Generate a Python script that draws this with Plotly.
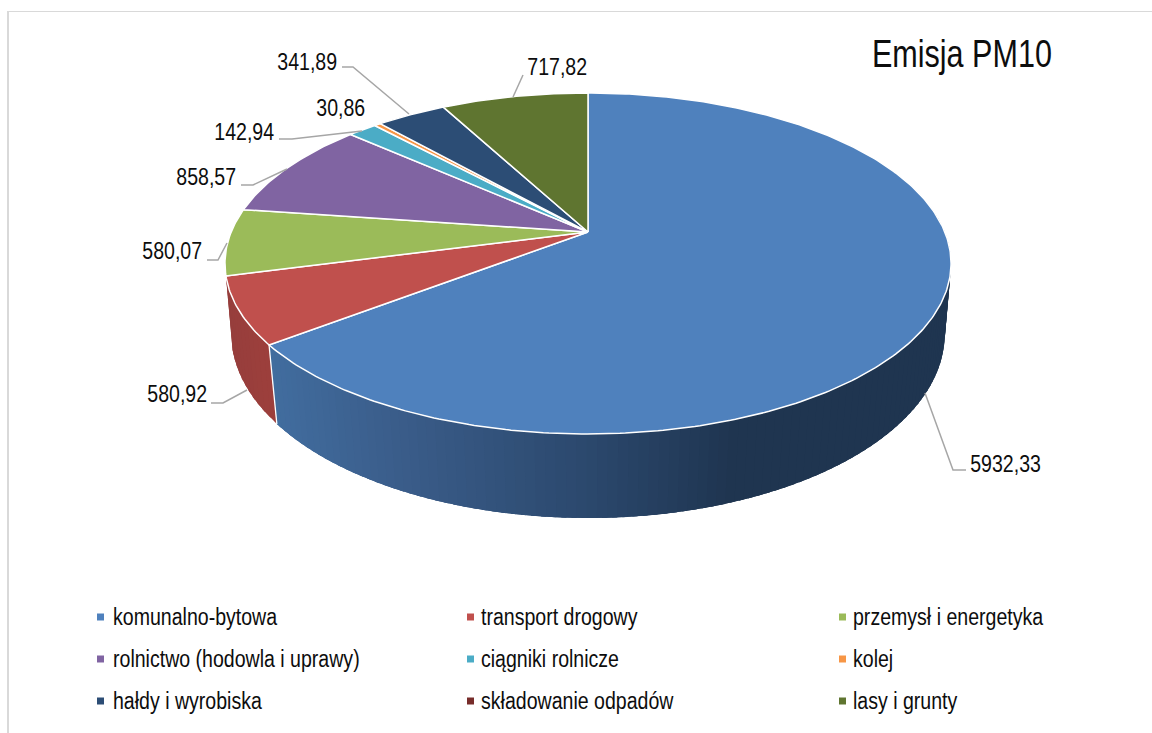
import math
import plotly.graph_objects as go

# ---- data ----
categories = ["komunalno-bytowa", "transport drogowy", "przemysł i energetyka",
              "rolnictwo (hodowla i uprawy)", "ciągniki rolnicze", "kolej",
              "hałdy i wyrobiska", "składowanie odpadów", "lasy i grunty"]
values = [5932.33, 580.92, 580.07, 858.57, 142.94, 30.86, 341.89, 0, 717.82]
colors = ["#4F81BD", "#C0504D", "#9BBB59", "#8064A2", "#4BACC6",
          "#F79646", "#2C4D75", "#772C2A", "#5F7530"]
title = "Emisja PM10"

FONT = "Liberation Sans, Arial, sans-serif"

# ---- projection of the tilted pie ----
def top(t):
    v, s = math.cos(t), math.sin(t)
    d = 1 + 0.1847 * v
    return 588 + 356.8 * s / d, 232 - 164.7 * v / d

def bottom(t):
    v, s = math.cos(t), math.sin(t)
    d = 1 + 0.17 * v
    return 588 + 351.6 * s / d, 302.5 - 178.9 * v / d

def lerp(stops, x):
    if x <= stops[0][0]:
        return stops[0][1]
    for (x0, c0), (x1, c1) in zip(stops, stops[1:]):
        if x <= x1:
            f = (x - x0) / (x1 - x0)
            return tuple(a + (b - a) * f for a, b in zip(c0, c1))
    return stops[-1][1]

blue_wall = [(270, (66, 110, 160)), (400, (59, 94, 139)), (590, (44, 73, 110)),
             (740, (31, 53, 80)), (960, (31, 53, 80))]
red_wall = [(226, (150, 62, 60)), (280, (158, 64, 61))]

fig = go.Figure()

total = sum(values)
angles = [0]
for val in values:
    angles.append(angles[-1] + val / total * 2 * math.pi)

# ---- side wall: strips overlap so no seams show ----
def wall(t0, t1, stops, n):
    step = (t1 - t0) / n
    for i in range(n):
        a = t0 + step * i
        b = min(t1, a + step * 2.5)
        pts = [top(a), top(b), bottom(b), bottom(a), top(a)]
        mx = (top(a)[0] + bottom(a)[0]) / 2
        c = lerp(stops, mx)
        col = "rgb(%d,%d,%d)" % c
        fig.add_trace(go.Scatter(x=[p[0] for p in pts], y=[p[1] for p in pts],
                                 mode="lines", fill="toself", fillcolor=col,
                                 line=dict(color=col, width=0),
                                 hoverinfo="skip", showlegend=False))

wall(angles[0] + math.pi * 0.45, angles[1], blue_wall, 110)
wall(angles[1], angles[2], red_wall, 12)

# separator between the wall parts
sa, sb = top(angles[1]), bottom(angles[1])
fig.add_trace(go.Scatter(x=[sa[0], sb[0]], y=[sa[1], sb[1]], mode="lines",
                         line=dict(color="white", width=1.3),
                         hoverinfo="skip", showlegend=False))

# ---- top faces ----
for i, val in enumerate(values):
    if val <= 0:
        continue
    a0, a1 = angles[i], angles[i + 1]
    n = max(4, int((a1 - a0) * 80))
    pts = [(588, 232)] + [top(a0 + (a1 - a0) * j / n) for j in range(n + 1)] + [(588, 232)]
    fig.add_trace(go.Scatter(x=[p[0] for p in pts], y=[p[1] for p in pts],
                             mode="lines", fill="toself", fillcolor=colors[i],
                             line=dict(color="white", width=1.5),
                             hoverinfo="skip", showlegend=False))

# ---- leader lines ----
leaders = [
    [(925, 393), (953, 470), (966, 470)],
    [(247, 390), (223, 403), (211, 403)],
    [(227, 243), (218, 260), (207, 260)],
    [(287, 169), (253, 185), (241, 185)],
    [(362, 131), (292, 139), (279, 139)],
    [(409, 114), (353, 67), (342, 67)],
    [(513, 97), (523, 75)],
]
for ln in leaders:
    fig.add_trace(go.Scatter(x=[p[0] for p in ln], y=[p[1] for p in ln], mode="lines",
                             line=dict(color="#A6A6A6", width=1.5),
                             hoverinfo="skip", showlegend=False))

# ---- data labels ----
label_pos = {0: (1005, 464), 1: (176.5, 394), 2: (171.5, 251), 3: (205.5, 177),
             4: (244, 132), 5: (340.5, 108), 6: (306.5, 62), 8: (557, 67)}
annotations = []
for i, (x, y) in label_pos.items():
    annotations.append(dict(x=x, y=y, xref="x", yref="y", showarrow=False,
                            text=f"{values[i]:.2f}".replace(".", ","),
                            font=dict(family=FONT, size=23, color="#0d0d0d")))

annotations.append(dict(x=962, y=54, xref="x", yref="y", showarrow=False, text=title,
                        font=dict(family=FONT, size=38, color="#0d0d0d")))

# ---- legend ----
col_marker = [100.5, 470.5, 842.5]
col_text = [111, 479, 851]
row_y = [617, 659, 701]
for i, name in enumerate(categories):
    r, c = i // 3, i % 3
    fig.add_trace(go.Scatter(x=[col_marker[c]], y=[row_y[r]], mode="markers",
                             marker=dict(symbol="square", size=7, color=colors[i]),
                             hoverinfo="skip", showlegend=False))
    annotations.append(dict(x=col_text[c], y=row_y[r], xref="x", yref="y", showarrow=False,
                            xanchor="left", text=name,
                            font=dict(family=FONT, size=23, color="#0d0d0d")))

# ---- frame ----
shapes = [
    dict(type="line", x0=8, x1=8, y0=11, y1=733, xref="x", yref="y",
         line=dict(color="#D9D9D9", width=2)),
    dict(type="line", x0=8, x1=1152, y0=11.5, y1=11.5, xref="x", yref="y",
         line=dict(color="#D9D9D9", width=1.2)),
]

fig.update_layout(
    width=1152, height=733, margin=dict(l=0, r=0, t=0, b=0),
    paper_bgcolor="white", plot_bgcolor="white", showlegend=False,
    xaxis=dict(range=[0, 1152], visible=False, fixedrange=True),
    yaxis=dict(range=[733, 0], visible=False, fixedrange=True),
    annotations=annotations, shapes=shapes,
)

# the reference's text is horizontally condensed: squeeze the glyphs of the real text
post = """
document.body.style.margin='0';document.body.style.overflow='hidden';
document.querySelectorAll('.annotation').forEach(function(g){
  var idx=+g.getAttribute('data-index');
  var t=g.querySelector('text'); if(!t) return;
  var f= idx==8 ? 0.804 : 0.85;
  var w=t.getComputedTextLength();
  t.setAttribute('lengthAdjust','spacingAndGlyphs');
  t.setAttribute('textLength',w*f);
  if(idx>8){ t.setAttribute('x', parseFloat(t.getAttribute('x')||0)-w*(1-f)/2); }
});
"""
fig.write_html("out.html", config={"displayModeBar": False}, post_script=post)
